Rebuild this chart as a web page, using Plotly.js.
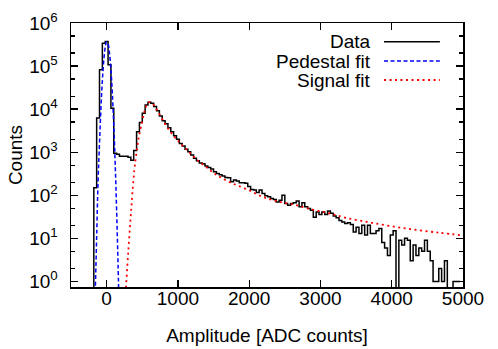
<!DOCTYPE html>
<html>
<head>
<meta charset="utf-8">
<script src="https://cdn.plot.ly/plotly-3.0.1.min.js"></script>
<style>html,body{margin:0;padding:0;background:#fff;}</style>
</head>
<body>
<div id="plot1" style="width:498px;height:349px;"></div>
<script>
// histogram: 40 ADC wide bins, first bin centred at -480
var binStart = -480;
var binWidth = 40;
var counts = [
  0, 0, 0, 0, 0, 0, 0, 0,
  150, 6200, 82000, 340000, 370000, 107000, 10500, 950,
  900, 810, 810, 800, 760, 650, 1100, 3000,
  4900, 8000, 12500, 14500, 13700, 11500, 9200, 6900,
  5400, 4550, 3700, 3000, 2400, 2000, 1600, 1400,
  1170, 1030, 860, 720, 630, 560, 540, 475,
  440, 410, 350, 320, 300, 280, 260, 255,
  205, 225, 215, 195, 195, 190, 160, 137,
  132, 116, 132, 110, 97, 92, 84, 80,
  70, 77, 100, 64, 59, 64, 67, 74,
  54, 67, 54, 49, 45, 31, 41, 36,
  41, 36, 43, 38, 33, 30, 26, 24,
  22, 23, 21, 14, 18, 13, 20, 12,
  20, 13, 13, 15, 17, 8, 6, 4,
  12, 15, 0, 9, 7, 10, 9, 3,
  7, 4, 6, 5, 9, 5, 3, 1,
  1, 2, 1, 3, 0, 0, 1, 1,
  1
];

// pedestal fit
var pedestal_x = [-180, -160, -140, -120, -100, -80, -60, -40, -20, 0,
  20, 40, 60, 80, 100, 120, 140, 160, 180];
var pedestal_y = [0.1, 0.6, 11, 220, 1600, 10500, 46000, 136000, 270000, 365000,
  330000, 200000, 83000, 23000, 4300, 540, 45, 2.5, 0.1];

// signal fit
var signal_x = [262, 272, 300, 342, 388, 420, 450, 482, 520, 552, 580, 608,
  640, 680, 720, 800, 900, 1000, 1100, 1200, 1300, 1400, 1500, 1600,
  1767, 1978, 2188, 2400, 2656, 2900, 3123, 3357, 3731, 4199, 4666, 5000];
var signal_y = [0.4, 0.74, 4, 40, 380, 1000, 2200, 3900, 7500, 11500, 13800, 14500,
  13600, 11200, 8800, 5200, 2900, 1850, 1250, 850, 600, 450, 330, 260,
  188, 136, 92, 72, 59, 46, 38, 30, 22.8, 16.9, 13.5, 11.7];

var x_ticks = [0, 1000, 2000, 3000, 4000, 5000];
var y_ticks = [1, 10, 100, 1000, 10000, 100000, 1000000];
var y_labels = ['10<sup>0</sup>', '10<sup>1</sup>', '10<sup>2</sup>', '10<sup>3</sup>',
  '10<sup>4</sup>', '10<sup>5</sup>', '10<sup>6</sup>'];
var y_minor = [2, 5, 20, 50, 200, 500, 2000, 5000, 20000, 50000, 200000, 500000];

var names = ['Data', 'Pedestal fit', 'Signal fit'];
var colors = ['#000000', '#0000ff', '#ff0000'];
var dashes = ['solid', '4px,2.5px', '2px,3.5px'];

var centers = counts.map(function (c, i) { return binStart + i * binWidth; });
// empty bins: push the step below the axis so it drops off the bottom
var shown = counts.map(function (c) { return c > 0 ? c : 0.01; });

var trace1 = {
  x: centers,
  y: shown,
  mode: 'lines',
  type: 'scatter',
  name: names[0],
  line: {shape: 'hvh', color: colors[0], width: 1.5}
};
var trace2 = {
  x: pedestal_x,
  y: pedestal_y,
  mode: 'lines',
  type: 'scatter',
  name: names[1],
  line: {shape: 'spline', color: colors[1], width: 1.5, dash: dashes[1]}
};
var trace3 = {
  x: signal_x,
  y: signal_y,
  mode: 'lines',
  type: 'scatter',
  name: names[2],
  line: {shape: 'spline', color: colors[2], width: 1.8, dash: dashes[2]}
};

// gnuplot style key: text on the left, sample on the right
var keyRows = [0.929, 0.856, 0.784];
var annotations = [];
var shapes = [];
names.forEach(function (n, i) {
  annotations.push({
    text: n, xref: 'paper', yref: 'paper', x: 0.770, y: keyRows[i],
    xanchor: 'right', yanchor: 'middle', showarrow: false,
    font: {size: 19, color: '#000'}
  });
  shapes.push({
    type: 'line', xref: 'paper', yref: 'paper',
    x0: 0.7985, x1: 0.941, y0: keyRows[i], y1: keyRows[i],
    line: {color: colors[i], width: i == 2 ? 1.8 : 1.5, dash: dashes[i]}
  });
});

var layout = {
  width: 498,
  height: 349,
  margin: {l: 71, r: 35, t: 23, b: 62},
  showlegend: false,
  paper_bgcolor: '#fff',
  plot_bgcolor: '#fff',
  font: {family: 'Liberation Sans, Arial, sans-serif', size: 19, color: '#000'},
  xaxis: {
    range: [-500, 5000],
    tickmode: 'array',
    tickvals: x_ticks,
    ticks: 'inside',
    ticklen: 7,
    tickwidth: 1.3,
    tickcolor: '#000',
    showline: true,
    linewidth: 1.5,
    linecolor: '#000',
    mirror: 'ticks',
    showgrid: false,
    zeroline: false,
    ticklabelstandoff: -6,
    tickfont: {size: 19},
    title: {text: 'Amplitude [ADC counts]', font: {size: 19}, standoff: 20}
  },
  yaxis: {
    type: 'log',
    range: [-0.13, 6],
    tickmode: 'array',
    tickvals: y_ticks,
    ticktext: y_labels,
    ticks: 'inside',
    ticklen: 7,
    tickwidth: 1.3,
    tickcolor: '#000',
    minor: {tickmode: 'array', tickvals: y_minor, ticks: 'inside', ticklen: 4,
      tickwidth: 1.3, tickcolor: '#000', showgrid: false},
    showline: true,
    linewidth: 1.5,
    linecolor: '#000',
    mirror: 'ticks',
    showgrid: false,
    zeroline: false,
    ticklabelstandoff: 8,
    tickfont: {size: 19},
    title: {text: 'Counts', font: {size: 19}, standoff: 1}
  },
  annotations: annotations,
  shapes: shapes
};

var data = [trace1, trace2, trace3];

Plotly.newPlot('plot1', data, layout, {displayModeBar: false, staticPlot: true});
</script>
</body>
</html>
